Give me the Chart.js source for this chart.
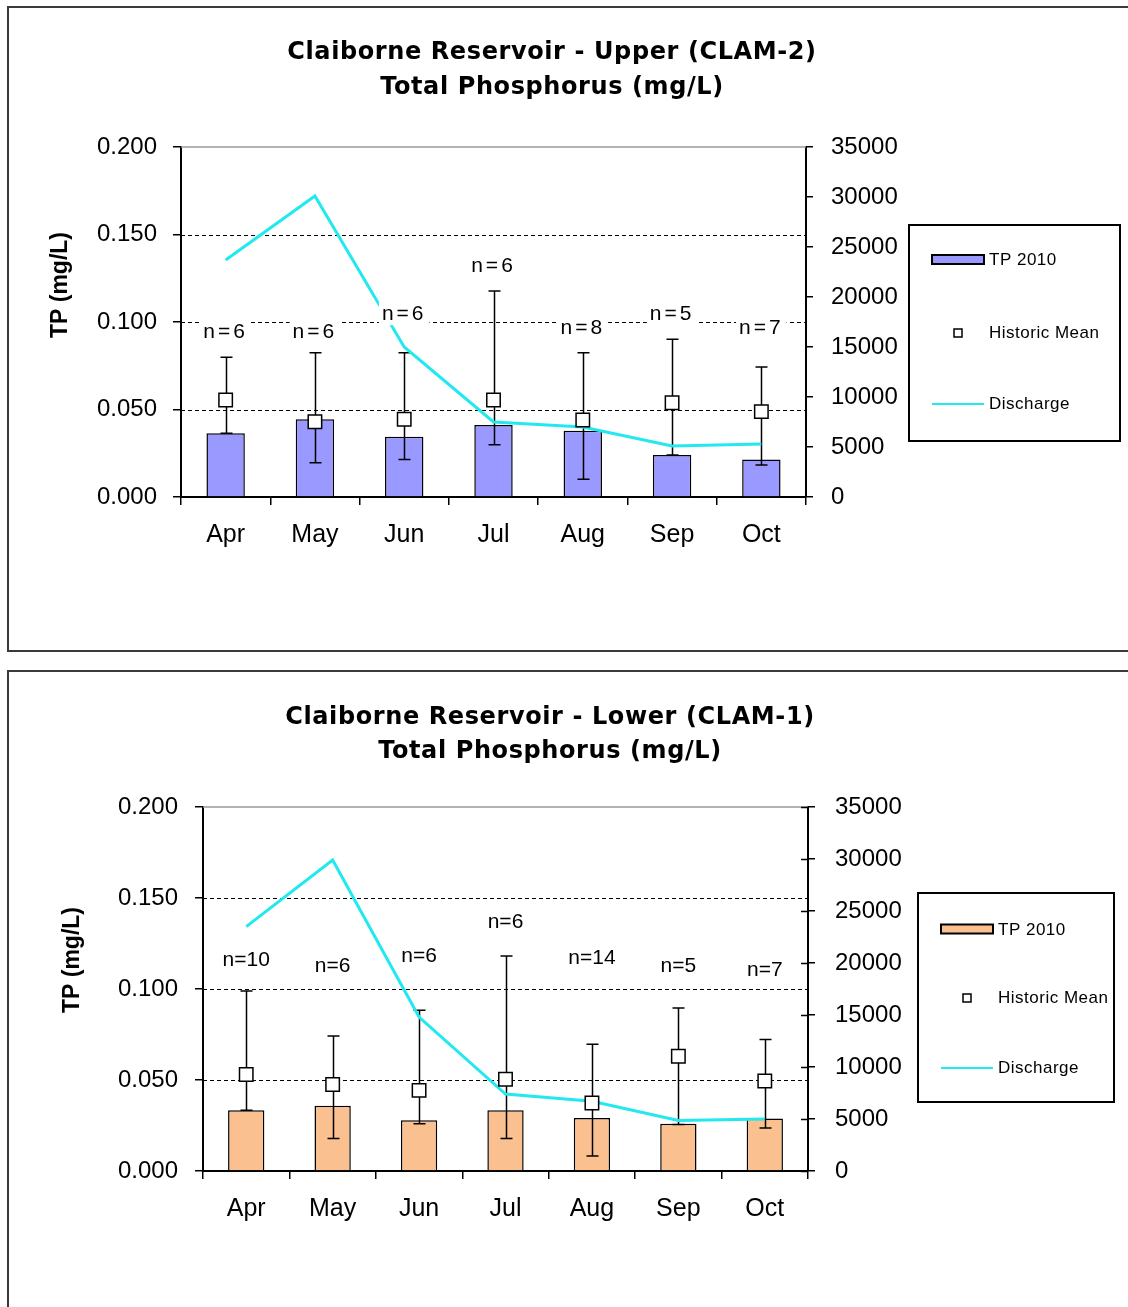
<!DOCTYPE html>
<html>
<head>
<meta charset="utf-8">
<script src="https://cdn.jsdelivr.net/npm/chart.js@4.4.0/dist/chart.umd.min.js"></script>
<style>
  html, body { margin: 0; padding: 0; background: #fff; }
  body { width: 1128px; height: 1307px; position: relative; overflow: hidden; }
  .frame { position: absolute; left: 7px; width: 1140px; border: 2px solid #3a3a3a; }
  #frame1 { top: 6px; height: 642px; }
  #frame2 { top: 670px; height: 700px; }
  canvas { position: absolute; left: 0; }
  #upperChart { top: 0; }
  #lowerChart { top: 660px; }
</style>
</head>
<body>
<div class="frame" id="frame1"></div>
<div class="frame" id="frame2"></div>
<canvas id="upperChart" width="1128" height="660"></canvas>
<canvas id="lowerChart" width="1128" height="647"></canvas>
<script>
const months = ['Apr', 'May', 'Jun', 'Jul', 'Aug', 'Sep', 'Oct'];
const tpTicks = [0, 0.05, 0.1, 0.15, 0.2];
const dischargeTicks = [0, 5000, 10000, 15000, 20000, 25000, 30000, 35000];

// Upper (CLAM-2)
const upperTP = [0.0364, 0.0444, 0.0345, 0.0411, 0.0379, 0.0240, 0.0215];
const upperMin = [0.0364, 0.0196, 0.0215, 0.0299, 0.0101, 0.0240, 0.0183];
const upperMax = [0.0798, 0.0825, 0.0825, 0.1177, 0.0825, 0.0901, 0.0743];
const upperMean = [0.0554, 0.0430, 0.0444, 0.0554, 0.0440, 0.0539, 0.0488];
const upperDischarge = [23700, 30100, 15000, 7500, 7000, 5100, 5300];
const upperN = [6, 6, 6, 6, 8, 5, 7];
const upperNLabelY = [0.0945, 0.0945, 0.105, 0.1326, 0.0973, 0.105, 0.0973];

// Lower (CLAM-1)
const lowerTP = [0.0334, 0.0359, 0.0279, 0.0334, 0.0291, 0.0260, 0.0288];
const lowerMin = [0.0334, 0.0178, 0.0260, 0.0178, 0.0082, 0.0255, 0.0236];
const lowerMax = [0.0989, 0.0742, 0.0883, 0.1181, 0.0696, 0.0896, 0.0722];
const lowerMean = [0.0530, 0.0475, 0.0443, 0.0504, 0.0374, 0.0630, 0.0495];
const lowerDischarge = [23500, 29900, 14800, 7400, 6700, 4850, 5000];
const lowerN = [10, 6, 6, 6, 14, 5, 7];
const lowerNLabelY = [0.1165, 0.113, 0.1187, 0.1374, 0.1176, 0.113, 0.111];

const FONT = '"Liberation Sans", Arial, sans-serif';
const TITLE_FONT = '"DejaVu Sans", Verdana, sans-serif';
const CYAN = '#22E8F0';

function makeChart(id, s) {
  const decor = {
    id: 'decor',
    beforeDatasetsDraw(chart) {
      const { ctx, chartArea: a, scales: { y } } = chart;
      ctx.save();
      // dashed grid lines
      ctx.strokeStyle = '#000';
      ctx.lineWidth = 1.2;
      ctx.setLineDash([4, 3]);
      tpTicks.slice(1, -1).forEach(v => {
        const py = Math.round(y.getPixelForValue(v)) + 0.5;
        ctx.beginPath(); ctx.moveTo(a.left, py); ctx.lineTo(a.right, py); ctx.stroke();
      });
      ctx.setLineDash([]);
      // top border of plot area
      ctx.strokeStyle = '#999';
      ctx.lineWidth = 1.5;
      ctx.beginPath(); ctx.moveTo(a.left, a.top); ctx.lineTo(a.right, a.top); ctx.stroke();
      ctx.restore();
    },
    afterDatasetDraw(chart, args) {
      if (args.index !== 0) return;
      // error bars on top of the bars
      const { ctx, scales: { y } } = chart;
      const bars = chart.getDatasetMeta(0).data;
      ctx.save();
      ctx.strokeStyle = '#000';
      ctx.lineWidth = 1.5;
      bars.forEach((b, i) => {
        const x = Math.round(b.x) + 0.5;
        const top = y.getPixelForValue(s.max[i]);
        const bot = y.getPixelForValue(s.min[i]);
        ctx.beginPath();
        ctx.moveTo(x, top); ctx.lineTo(x, bot);
        ctx.moveTo(x - 6, top); ctx.lineTo(x + 6, top);
        ctx.moveTo(x - 6, bot); ctx.lineTo(x + 6, bot);
        ctx.stroke();
      });
      ctx.restore();
    },
    afterDatasetsDraw(chart) {
      // n= labels with white background
      const { ctx, scales: { y } } = chart;
      const bars = chart.getDatasetMeta(0).data;
      ctx.save();
      ctx.font = '21px ' + FONT;
      ctx.letterSpacing = s.nSpacing;
      ctx.textAlign = 'center';
      ctx.textBaseline = 'middle';
      bars.forEach((b, i) => {
        const txt = 'n=' + s.n[i];
        const py = y.getPixelForValue(s.nY[i]);
        const w = ctx.measureText(txt).width + 6;
        ctx.fillStyle = '#fff';
        ctx.fillRect(b.x - w / 2, py - 12, w, 24);
        ctx.fillStyle = '#000';
        ctx.fillText(txt, b.x, py + 1);
      });
      ctx.restore();
    },
    afterDraw(chart) {
      const { ctx, chartArea: a, scales: { y1 } } = chart;
      ctx.save();
      // title
      ctx.fillStyle = '#000';
      ctx.font = 'bold 24px ' + TITLE_FONT;
      ctx.letterSpacing = '0.6px';
      ctx.textAlign = 'center';
      ctx.textBaseline = 'middle';
      ctx.fillText(s.title[0], s.titleX, s.titleY[0]);
      ctx.fillText(s.title[1], s.titleX, s.titleY[1]);
      ctx.letterSpacing = '0px';
      // left axis title
      ctx.save();
      ctx.translate(s.axisTitle[0], s.axisTitle[1]);
      ctx.rotate(-Math.PI / 2);
      ctx.font = 'bold 23px ' + FONT;
      ctx.fillText('TP (mg/L)', 0, 0);
      ctx.restore();
      // inward ticks on the right axis
      if (s.crossTicks) {
        ctx.strokeStyle = '#000';
        ctx.lineWidth = 1.5;
        y1.ticks.forEach(t => {
          const py = Math.round(y1.getPixelForValue(t.value)) + 0.5;
          ctx.beginPath(); ctx.moveTo(a.right - 7, py); ctx.lineTo(a.right, py); ctx.stroke();
        });
      }
      // legend
      const L = s.legend;
      ctx.strokeStyle = '#000';
      ctx.lineWidth = 2;
      ctx.strokeRect(L.x, L.y, L.w, L.h);
      ctx.font = '17px ' + FONT;
      ctx.letterSpacing = '0.5px';
      ctx.textAlign = 'left';
      ctx.fillStyle = s.barColor;
      ctx.fillRect(L.x + 23, L.rows[0] - 4.5, 52, 9);
      ctx.strokeRect(L.x + 23, L.rows[0] - 4.5, 52, 9);
      ctx.fillStyle = '#000';
      ctx.fillText('TP 2010', L.x + 80, L.rows[0] + 1);
      ctx.fillStyle = '#fff';
      ctx.lineWidth = 1.5;
      ctx.fillRect(L.x + 45, L.rows[1] - 4, 8, 8);
      ctx.strokeRect(L.x + 45, L.rows[1] - 4, 8, 8);
      ctx.fillStyle = '#000';
      ctx.fillText('Historic Mean', L.x + 80, L.rows[1]);
      ctx.strokeStyle = CYAN;
      ctx.lineWidth = 2;
      ctx.beginPath(); ctx.moveTo(L.x + 23, L.rows[2]); ctx.lineTo(L.x + 75, L.rows[2]); ctx.stroke();
      ctx.fillText('Discharge', L.x + 80, L.rows[2]);
      ctx.restore();
    }
  };

  return new Chart(document.getElementById(id), {
    type: 'bar',
    data: {
      labels: months,
      datasets: [
        {
          type: 'bar', label: 'TP 2010', data: s.tp, yAxisID: 'y', order: 3,
          backgroundColor: s.barColor, borderColor: '#000', borderWidth: 1.5,
          barPercentage: s.barPct, categoryPercentage: 1
        },
        {
          type: 'line', label: 'Discharge', data: s.discharge, yAxisID: 'y1', order: 2,
          borderColor: CYAN, borderWidth: 3, pointRadius: 0, tension: 0, fill: false
        },
        {
          type: 'line', label: 'Historic Mean', data: s.mean, yAxisID: 'y', order: 1,
          showLine: false, pointStyle: 'rect', pointRadius: 9.5,
          pointBackgroundColor: '#fff', pointBorderColor: '#000', pointBorderWidth: 1.5
        }
      ]
    },
    options: {
      responsive: false,
      animation: false,
      layout: { padding: s.padding },
      plugins: { legend: { display: false }, tooltip: { enabled: false }, title: { display: false } },
      scales: {
        x: {
          grid: { offset: true, drawOnChartArea: false, color: '#000', lineWidth: 1.5, tickLength: 8 },
          border: { color: '#000', width: 2 },
          ticks: { color: '#000', font: { family: FONT, size: 25 }, padding: 15 },
          afterFit: sc => { sc.height = 60; }
        },
        y: {
          position: 'left', min: 0, max: 0.2,
          afterBuildTicks: sc => { sc.ticks = tpTicks.map(v => ({ value: v })); },
          grid: { drawOnChartArea: false, color: '#000', lineWidth: 1.5, tickLength: 8 },
          border: { color: '#000', width: 2 },
          ticks: { color: '#000', font: { family: FONT, size: 24 }, padding: s.yPad, callback: v => v.toFixed(3) },
          afterFit: sc => { sc.width = s.yWidth; }
        },
        y1: {
          position: 'right', min: 0, max: 35000,
          afterBuildTicks: sc => { sc.ticks = dischargeTicks.map(v => ({ value: v })); },
          grid: { drawOnChartArea: false, color: '#000', lineWidth: 1.5, tickLength: 7 },
          border: { color: '#000', width: 2 },
          ticks: { color: '#000', font: { family: FONT, size: 24 }, padding: s.y1Pad, callback: v => String(v) },
          afterFit: sc => { sc.width = 100; }
        }
      }
    },
    plugins: [decor]
  });
}

makeChart('upperChart', {
  tp: upperTP, min: upperMin, max: upperMax, mean: upperMean, discharge: upperDischarge,
  n: upperN, nY: upperNLabelY, nSpacing: '3px',
  barColor: '#9999FF', barPct: 0.43,
  padding: { left: 10, top: 147, right: 222, bottom: 103 },
  yWidth: 171, yPad: 16, y1Pad: 18, crossTicks: false,
  title: ['Claiborne Reservoir - Upper (CLAM-2)', 'Total Phosphorus (mg/L)'],
  titleX: 552, titleY: [53, 88], axisTitle: [61, 285],
  legend: { x: 909, y: 225, w: 211, h: 216, rows: [259.5, 333, 404] }
});

makeChart('lowerChart', {
  tp: lowerTP, min: lowerMin, max: lowerMax, mean: lowerMean, discharge: lowerDischarge,
  n: lowerN, nY: lowerNLabelY, nSpacing: '0px',
  barColor: '#FAC090', barPct: 0.42,
  padding: { left: 10, top: 147, right: 220, bottom: 76 },
  yWidth: 193, yPad: 17, y1Pad: 20, crossTicks: true,
  title: ['Claiborne Reservoir - Lower (CLAM-1)', 'Total Phosphorus (mg/L)'],
  titleX: 550, titleY: [58, 92], axisTitle: [73, 300],
  legend: { x: 918, y: 233, w: 196, h: 209, rows: [269, 338, 408] }
});
</script>
</body>
</html>
